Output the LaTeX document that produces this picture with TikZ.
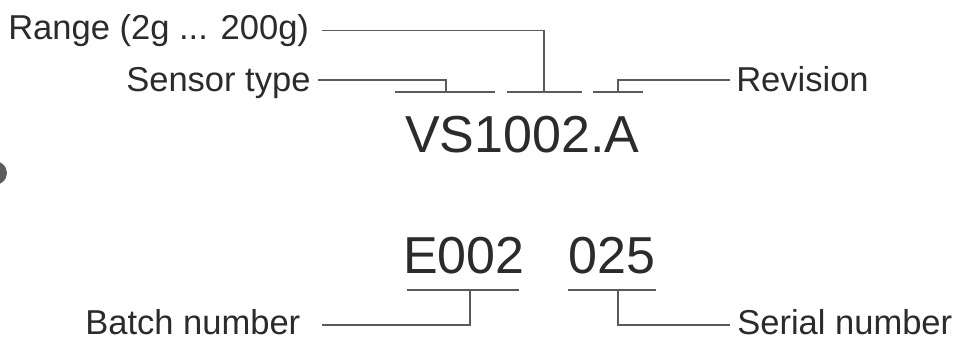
\documentclass[tikz,border=0pt]{standalone}
\usepackage{fontspec}
\setmainfont{Liberation Sans}
\definecolor{txt}{HTML}{2B2B2B}
\definecolor{ln}{HTML}{5A5A5A}
\definecolor{blobc}{HTML}{5C5C5C}
\begin{document}
\begin{tikzpicture}[x=0.75pt,y=-0.75pt,
  lbl/.style={anchor=base west,inner sep=0,text=txt,font=\fontsize{25.9}{30}\selectfont},
  code/.style={anchor=base west,inner sep=0,text=txt,font=\fontsize{39}{44}\selectfont},
  lead/.style={draw=ln,line width=0.9pt}]
\useasboundingbox (0,0) rectangle (960,342);
\clip (0,0) rectangle (960,342);
\fill[white] (0,0) rectangle (960,342);
% partial object at left edge
\fill[blobc] (-9,173) ellipse [x radius=16, y radius=13];
% labels
\node[lbl] (range) at (8,40) {Range (2g ... 200g)};
\node[lbl] (sensor) at (126,92) {Sensor type};
\node[lbl] (rev) at (736,92) {Revision};
\node[lbl] (batch) at (85,334) {Batch number};
\node[lbl] (serial) at (737,334) {Serial number};
% codes
\node[code] (vs) at (405,153) {VS1002.A};
\node[code] (e002) at (403,273) {E002};
\node[code] (n025) at (568,273) {025};
% underline segments
\coordinate (s1a) at (395,92); \coordinate (s1b) at (495,92);
\coordinate (s2a) at (507,92); \coordinate (s2b) at (582,92);
\coordinate (s3a) at (593,92); \coordinate (s3b) at (643,92);
\coordinate (b1a) at (407,290); \coordinate (b1b) at (519,290);
\coordinate (b2a) at (568,290); \coordinate (b2b) at (656,290);
\draw[lead] (s1a) -- (s1b);
\draw[lead] (s2a) -- (s2b);
\draw[lead] (s3a) -- (s3b);
\draw[lead] (b1a) -- (b1b);
\draw[lead] (b2a) -- (b2b);
% leaders
\coordinate (r0) at (322,30.7); \coordinate (r1) at (544,92);
\coordinate (t0) at (318,80);   \coordinate (t1) at (446,92);
\coordinate (v0) at (730,80);   \coordinate (v1) at (618,92);
\coordinate (c0) at (322,325);  \coordinate (c1) at (470,290);
\coordinate (n0) at (730,325);  \coordinate (n1) at (618,290);
\draw[lead] (r0) -| (r1);
\draw[lead] (t0) -| (t1);
\draw[lead] (v0) -| (v1);
\draw[lead] (c0) -| (c1);
\draw[lead] (n0) -| (n1);
\end{tikzpicture}
\end{document}
